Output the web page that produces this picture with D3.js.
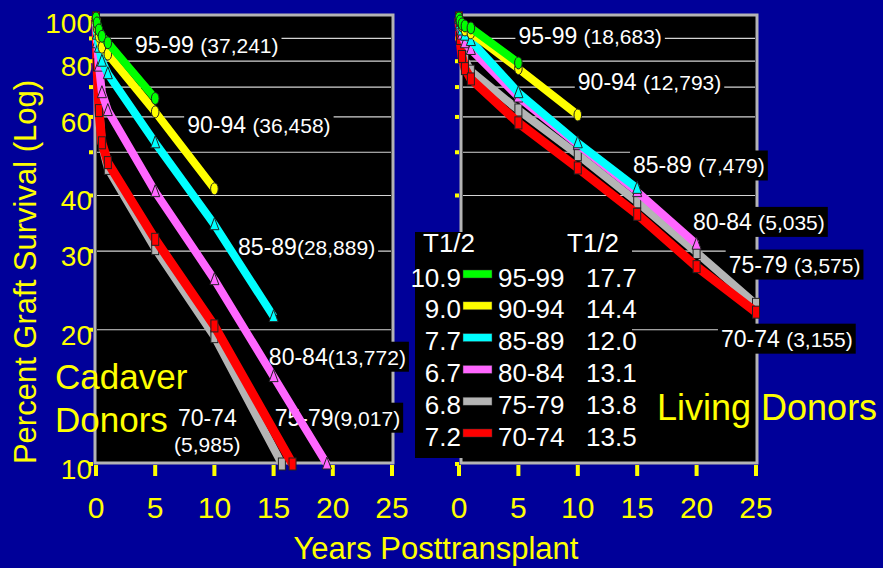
<!DOCTYPE html>
<html>
<head>
<meta charset="utf-8">
<script src="https://cdn.jsdelivr.net/npm/d3@7"></script>
<style>
  body { margin: 0; background: #000099; }
  svg { display: block; font-family: "Liberation Sans", Arial, sans-serif; }
</style>
</head>
<body>
<div id="chart"></div>
<script>
const cohorts = ["95-99", "90-94", "85-89", "80-84", "75-79", "70-74"];
const halfLifeCadaver = ["10.9", "9.0", "7.7", "6.7", "6.8", "7.2"];
const halfLifeLiving = ["17.7", "14.4", "12.0", "13.1", "13.8", "13.5"];
const cadaverN = ["37,241", "36,458", "28,889", "13,772", "9,017", "5,985"];
const livingN = ["18,683", "12,793", "7,479", "5,035", "3,575", "3,155"];

// [years posttransplant, percent graft survival]
const cadaverSurvival = [
    [[0, 100], [0.083, 97.5], [0.25, 94], [0.5, 91], [1, 88], [5, 66]],
    [[0, 100], [0.083, 95], [0.25, 91], [0.5, 86], [1, 83], [5, 61.6], [10, 41.4]],
    [[0, 100], [0.083, 92], [0.25, 86], [0.5, 80], [1, 75], [5, 52.5], [10, 34.4], [15, 21.4]],
    [[0, 100], [0.083, 88], [0.25, 78], [0.5, 68], [1, 62], [5, 40.8], [10, 25.9], [15, 15.7], [19.5, 10]],
    [[0, 100], [0.083, 80], [0.25, 64], [0.5, 52], [1, 46], [5, 30.4], [10, 19.3], [15.7, 10]],
    [[0, 100], [0.083, 78.5], [0.25, 62], [0.5, 52.5], [1, 47.4], [5, 31.9], [10, 20.4], [16.6, 10]]
];
const livingSurvival = [
    [[0, 100], [0.083, 98.5], [0.25, 97], [0.5, 96], [1, 95], [5, 79.3]],
    [[0, 100], [0.083, 98], [0.25, 96], [0.5, 94], [1, 92.6], [5, 77], [10, 60.6]],
    [[0, 100], [0.083, 97], [0.25, 94], [0.5, 91.5], [1, 89], [5, 68], [10, 52.5], [15, 41.5]],
    [[0, 100], [0.083, 96], [0.25, 92], [0.5, 88], [1, 85], [5, 66.5], [10, 52], [15, 40.8], [20, 31.1]],
    [[0, 100], [0.083, 91], [0.25, 85], [0.5, 80.5], [1, 76], [5, 62.2], [10, 49.4], [15, 38.7], [20, 29.8], [25, 22.8]],
    [[0, 100], [0.083, 90], [0.25, 82], [0.5, 77], [1, 73], [5, 58.2], [10, 46.1], [15, 36.3], [20, 27.7], [25, 21.9]]
];

const xTicks = [0, 5, 10, 15, 20, 25];
const yTickLabels = [100, 80, 60, 40, 30, 20, 10];
const yTickMarks = [100, 90, 80, 70, 60, 50, 40, 30, 20, 10];
const gridValues = [90, 80, 70, 60, 50, 40, 30, 20];

// where the cohort labels sit, in data units [years, percent]
const cadaverLabelAt = [[3.3, 87], [7.7, 57.6], [12.0, 30.6], [14.6, 17.4], [15.1, 12.7], [9.4, 12.7]];
const cadaverLabelSep = [" ", " ", "", "", "", "\n"];
const livingLabelAt = [[5.0, 91.1], [10.0, 71.9], [14.65, 46.7], [19.7, 34.9], [22.7, 28.0], [22.05, 19.1]];
const livingLabelSep = [" ", " ", " ", " ", " ", " "];

const colors = ["#00ff00", "#ffff00", "#00ffff", "#ff66ff", "#b4b4b4", "#ff0000"];
const shapes = ["circle", "circle", "triangle", "triangle", "square", "square"];
const drawOrder = [4, 5, 3, 2, 1, 0];

const width = 883, height = 568;
const svg = d3.select("#chart").append("svg")
    .attr("width", width)
    .attr("height", height);

svg.append("rect").attr("width", width).attr("height", height).attr("fill", "#000099");

const y = d3.scaleLog().domain([10, 100]).range([464, 18]);
const xLeft = d3.scaleLinear().domain([0, 25]).range([96, 392]);
const xRight = d3.scaleLinear().domain([0, 25]).range([459, 756]);

function drawPanel(x, frameLeft, survival, labelAt, counts, seps) {
    const g = svg.append("g");
    const fx1 = x(25) + 1;

    g.append("rect")
        .attr("x", frameLeft).attr("y", 15)
        .attr("width", fx1 - frameLeft).attr("height", 448)
        .attr("fill", "#000")
        .attr("stroke", "#b4b4b4")
        .attr("stroke-width", 3);

    g.append("g").selectAll("line")
        .data(gridValues)
        .join("line")
        .attr("x1", frameLeft + 2).attr("x2", fx1 - 2)
        .attr("y1", function(d) { return y(d); })
        .attr("y2", function(d) { return y(d); })
        .attr("stroke", "#d4d4d4")
        .attr("stroke-width", 1.2);

    g.append("g").selectAll("rect")
        .data(yTickMarks)
        .join("rect")
        .attr("x", frameLeft - 6)
        .attr("y", function(d) { return y(d) - 2; })
        .attr("width", 4).attr("height", 4)
        .attr("fill", "#ffff00");

    g.append("g").selectAll("rect")
        .data(xTicks)
        .join("rect")
        .attr("x", function(d) { return x(d) - 2; })
        .attr("y", 465)
        .attr("width", 4).attr("height", 11)
        .attr("fill", "#ffff00");

    g.append("g").selectAll("text")
        .data(xTicks)
        .join("text")
        .attr("x", function(d) { return x(d); })
        .attr("y", 518)
        .attr("text-anchor", "middle")
        .attr("font-size", "30px")
        .attr("fill", "#ffff00")
        .text(function(d) { return d; });

    // cohort labels with black boxes behind
    const lg = g.append("g");
    cohorts.forEach(function(c, i) {
        const px = x(labelAt[i][0]), py = y(labelAt[i][1]);
        const lab = lg.append("g");
        if (seps[i] === "\n") {
            lab.append("text")
                .attr("x", px).attr("y", py + 8)
                .attr("text-anchor", "middle")
                .attr("font-size", "23px").attr("fill", "#fff")
                .text(c);
            lab.append("text")
                .attr("x", px).attr("y", py + 34)
                .attr("text-anchor", "middle")
                .attr("font-size", "21px").attr("fill", "#fff")
                .text("(" + counts[i] + ")");
            return;
        }
        const t = lab.append("text")
            .attr("x", px).attr("y", py + 8)
            .attr("fill", "#fff");
        t.append("tspan").attr("font-size", "23px").text(c + seps[i]);
        t.append("tspan").attr("font-size", "21px").text("(" + counts[i] + ")");
        const bb = t.node().getBBox();
        lab.insert("rect", "text")
            .attr("x", bb.x - 3).attr("y", py - 15)
            .attr("width", bb.width + 6).attr("height", 30)
            .attr("fill", "#000");
    });

    const line = d3.line()
        .x(function(d) { return x(d[0]); })
        .y(function(d) { return y(d[1]); });

    drawOrder.forEach(function(i) {
        const s = g.append("g");
        s.append("path")
            .datum(survival[i])
            .attr("d", line)
            .attr("fill", "none")
            .attr("stroke", colors[i])
            .attr("stroke-width", i === 5 ? 9 : 8)
            .attr("stroke-linejoin", "round");

        const m = s.selectAll("g.m")
            .data(survival[i])
            .join("g")
            .attr("transform", function(d) { return "translate(" + x(d[0]) + "," + y(d[1]) + ")"; });
        if (shapes[i] === "circle") {
            m.append("ellipse").attr("rx", 3.8).attr("ry", 6);
        } else if (shapes[i] === "triangle") {
            m.append("path").attr("d", "M0,-7L4.5,5L-4.5,5Z");
        } else {
            m.append("rect").attr("x", -3.5).attr("y", -6).attr("width", 7).attr("height", 12);
        }
        m.selectAll("*")
            .attr("fill", colors[i])
            .attr("stroke", "#222")
            .attr("stroke-width", 1);
    });
}

drawPanel(xLeft, 95, cadaverSurvival, cadaverLabelAt, cadaverN, cadaverLabelSep);
drawPanel(xRight, 461, livingSurvival, livingLabelAt, livingN, livingLabelSep);

// y axis labels (left panel only)
svg.append("g").selectAll("text")
    .data(yTickLabels)
    .join("text")
    .attr("x", 92)
    .attr("y", function(d) { return y(d) + 15; })
    .attr("text-anchor", "end")
    .attr("font-size", "28px")
    .attr("fill", "#ffff00")
    .text(function(d) { return d; });

svg.append("text")
    .attr("transform", "translate(36,272) rotate(-90)")
    .attr("text-anchor", "middle")
    .attr("font-size", "31px")
    .attr("fill", "#ffff00")
    .text("Percent Graft Survival (Log)");

svg.append("text")
    .attr("x", 436).attr("y", 559)
    .attr("text-anchor", "middle")
    .attr("font-size", "31px")
    .attr("fill", "#ffff00")
    .text("Years Posttransplant");

svg.append("text").attr("x", 55).attr("y", 389)
    .attr("font-size", "35px").attr("fill", "#ffff00").text("Cadaver");
svg.append("text").attr("x", 55).attr("y", 432)
    .attr("font-size", "35px").attr("fill", "#ffff00").text("Donors");
svg.append("text").attr("x", 657).attr("y", 420)
    .attr("font-size", "36px").attr("fill", "#ffff00").text("Living Donors");

// legend
const leg = svg.append("g");
leg.append("rect").attr("x", 415).attr("y", 232).attr("width", 217).attr("height", 226).attr("fill", "#000");
leg.append("text").attr("x", 423).attr("y", 252).attr("font-size", "26px").attr("fill", "#fff").text("T1/2");
leg.append("text").attr("x", 567).attr("y", 252).attr("font-size", "26px").attr("fill", "#fff").text("T1/2");
cohorts.forEach(function(c, i) {
    const cy = 277 + i * 31.8;
    leg.append("text").attr("x", 461).attr("y", cy + 9.5).attr("text-anchor", "end")
        .attr("font-size", "26px").attr("fill", "#fff").text(halfLifeCadaver[i]);
    leg.append("rect").attr("x", 463).attr("y", cy - 7).attr("width", 29).attr("height", 8)
        .attr("fill", colors[i]).attr("stroke", "#333").attr("stroke-width", 0.5);
    leg.append("text").attr("x", 498).attr("y", cy + 9.5)
        .attr("font-size", "26px").attr("fill", "#fff").text(c);
    leg.append("text").attr("x", 586).attr("y", cy + 9.5)
        .attr("font-size", "26px").attr("fill", "#fff").text(halfLifeLiving[i]);
});
</script>
</body>
</html>
